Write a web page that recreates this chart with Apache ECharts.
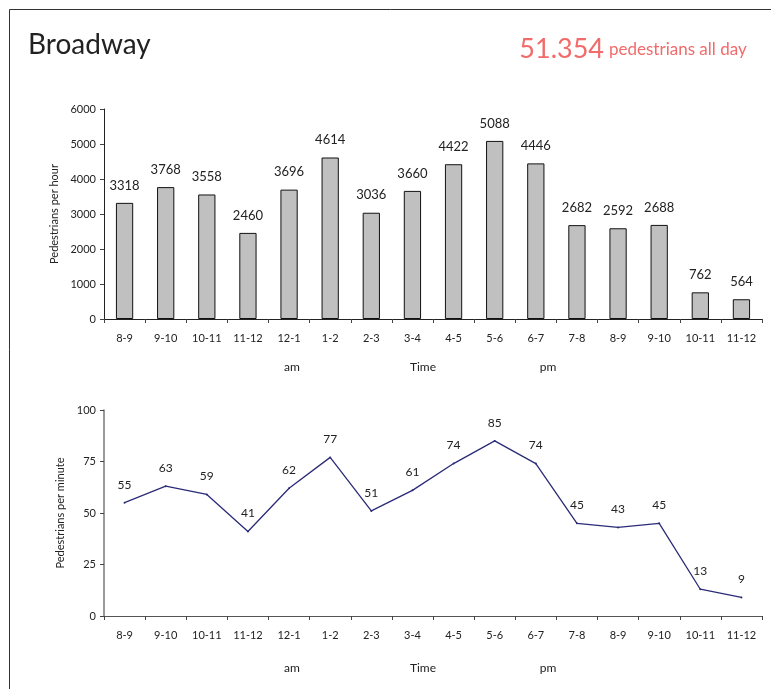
<!DOCTYPE html>
<html>
<head>
<meta charset="utf-8">
<script src="https://cdn.jsdelivr.net/npm/echarts@6/dist/echarts.min.js"></script>
<style>
  html, body { margin: 0; padding: 0; background: #fff; }
  #chart { width: 771px; height: 689px; }
</style>
</head>
<body>
<div id="chart"></div>
<script>
// hourly slots, am then pm
let hours = ['8-9', '9-10', '10-11', '11-12', '12-1', '1-2', '2-3', '3-4',
  '4-5', '5-6', '6-7', '7-8', '8-9', '9-10', '10-11', '11-12'];
let perHour = [3318, 3768, 3558, 2460, 3696, 4614, 3036, 3660,
  4422, 5088, 4446, 2682, 2592, 2688, 762, 564];
let perMinute = [55, 63, 59, 41, 62, 77, 51, 61, 74, 85, 74, 45, 43, 45, 13, 9];
let hourTicks = [0, 1000, 2000, 3000, 4000, 5000, 6000];
let minuteTicks = [0, 25, 50, 75, 100];
let totalLabel = '51.354';

let FONT = 'Lato';
let TXT = '#222';

function catAxis(gridIndex) {
  return {
    type: 'category', gridIndex: gridIndex, data: hours, boundaryGap: true,
    axisLine: {lineStyle: {color: gridIndex ? '#555' : '#222', width: 1}},
    axisTick: {show: true, length: 4, interval: 0, lineStyle: {color: '#444'}},
    axisLabel: {interval: 0, margin: 14, color: TXT, fontFamily: FONT, fontSize: 11}
  };
}

function valAxis(gridIndex, max, interval, name) {
  return {
    type: 'value', gridIndex: gridIndex, min: 0, max: max, interval: interval,
    name: name, nameLocation: 'middle', nameGap: 33,
    nameTextStyle: {color: TXT, fontFamily: FONT, fontSize: 11},
    axisLine: {show: true, lineStyle: {color: gridIndex ? '#777' : '#222', width: gridIndex ? 1.5 : 1}},
    axisTick: {show: true, length: 4, lineStyle: {color: '#444'}},
    splitLine: {show: false},
    axisLabel: {margin: 8, color: TXT, fontFamily: FONT, fontSize: 11, formatter: v => String(v)}
  };
}

function sideText(x, y, t) {
  return {type: 'text', x: x, y: y, style: {text: t, fill: TXT, font: '12px ' + FONT, textAlign: 'center', textVerticalAlign: 'middle'}};
}

let option = {
  backgroundColor: '#fff',
  animation: false,
  grid: [
    {left: 104, right: 9, top: 109, height: 210},
    {left: 104, right: 9, top: 410, height: 206}
  ],
  xAxis: [catAxis(0), catAxis(1)],
  yAxis: [
    valAxis(0, hourTicks[hourTicks.length - 1], 1000, 'Pedestrians per hour'),
    valAxis(1, minuteTicks[minuteTicks.length - 1], 25, 'Pedestrians per minute')
  ],
  series: [
    {
      type: 'bar', xAxisIndex: 0, yAxisIndex: 0, data: perHour, barWidth: '42%',
      itemStyle: {color: '#c0c0c0', borderColor: '#111', borderWidth: 1},
      label: {show: true, position: 'top', distance: 11, color: TXT, fontFamily: FONT, fontSize: 13}
    },
    {
      type: 'line', xAxisIndex: 1, yAxisIndex: 1, data: perMinute,
      symbol: 'circle', symbolSize: 2, showSymbol: true,
      itemStyle: {color: '#2b2b78', borderWidth: 0},
      lineStyle: {color: '#2b2b78', width: 1.3},
      label: {show: true, position: 'top', distance: 11, color: TXT, fontFamily: FONT, fontSize: 12}
    }
  ],
  graphic: [
    {type: 'line', shape: {x1: 9.5, y1: 9.5, x2: 771, y2: 9.5}, style: {stroke: '#333', lineWidth: 1}},
    {type: 'line', shape: {x1: 9.5, y1: 9.5, x2: 9.5, y2: 689}, style: {stroke: '#333', lineWidth: 1}},
    {type: 'text', x: 28, y: 45, style: {text: 'Broadway', fill: '#222', font: '28px ' + FONT, textVerticalAlign: 'middle'}},
    {type: 'text', x: 604, y: 49, style: {text: totalLabel, fill: '#f26b6b', font: '27px ' + FONT, textAlign: 'right', textVerticalAlign: 'middle'}},
    {type: 'text', x: 609, y: 50, style: {text: 'pedestrians all day', fill: '#f26b6b', font: '17px ' + FONT, textVerticalAlign: 'middle'}},
    sideText(292, 367, 'am'), sideText(423, 367, 'Time'), sideText(548, 367, 'pm'),
    sideText(292, 668, 'am'), sideText(423, 668, 'Time'), sideText(548, 668, 'pm')
  ]
};

let myChart = echarts.init(document.getElementById('chart'));
myChart.setOption(option);
</script>
</body>
</html>
